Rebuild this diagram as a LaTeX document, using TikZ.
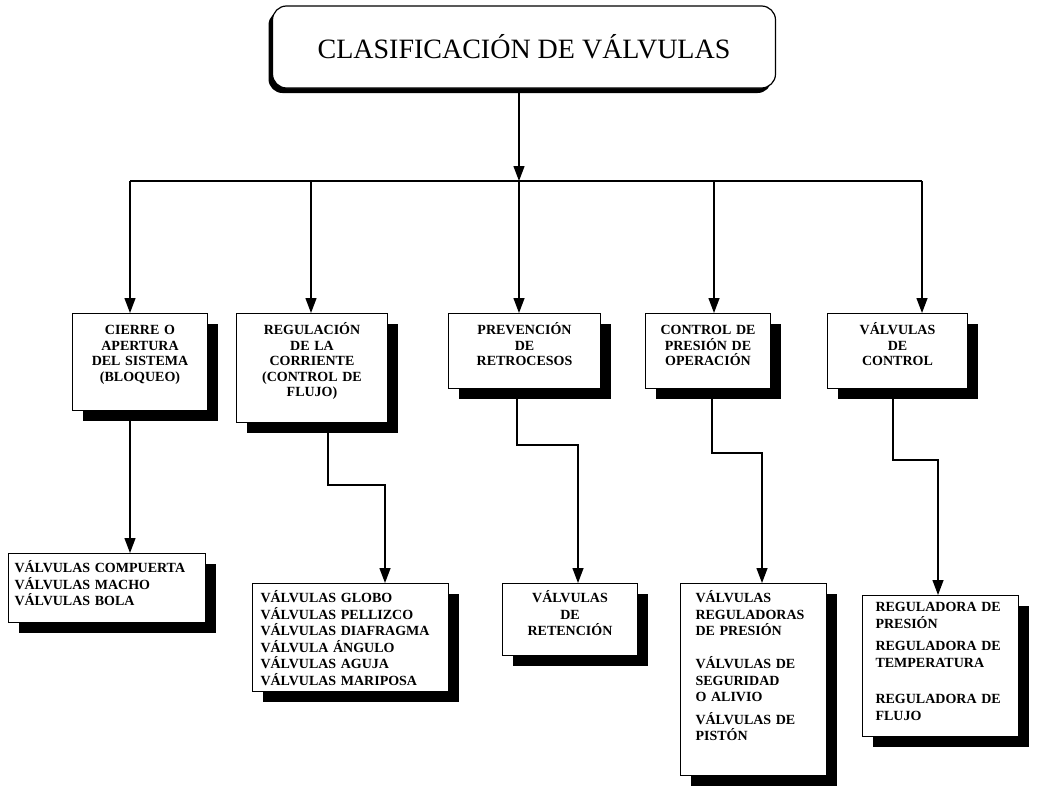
\documentclass[tikz,border=0pt]{standalone}
\usepackage{fontspec}
\setmainfont{Liberation Serif}
\usetikzlibrary{arrows.meta,shadows}

\tikzset{
  caja/.style={draw, fill=white, line width=1pt, anchor=north west,
    font=\bfseries\fontsize{14}{15.5}\selectfont, align=center,
    inner sep=6pt, text height=15pt,
    drop shadow={shadow xshift=10pt, shadow yshift=-10pt, fill=black, opacity=1}},
  subcaja/.style={caja, font=\bfseries\fontsize{14}{16.5}\selectfont, align=left,
    text height=13pt},
  flecha/.style={line width=1.3pt, -{Triangle[length=15pt,width=11pt]}},
}

\begin{document}
\begin{tikzpicture}[x=1pt,y=-1pt]
    \useasboundingbox (0,0) rectangle (1040,790);
    % titulo
    \node[draw, fill=white, line width=1.2pt, rounded corners=14pt,
      minimum width=503pt, minimum height=82pt, text depth=2pt,
      font=\fontsize{28}{32}\selectfont,
      drop shadow={shadow xshift=-4pt, shadow yshift=-5pt, fill=black, opacity=1}]
      (titulo) at (524,47) {CLASIFICACIÓN DE VÁLVULAS};
    \coordinate (h1) at (130,181);
    \coordinate (h2) at (311,181);
    \coordinate (h3) at (519,181);
    \coordinate (h4) at (714,181);
    \coordinate (h5) at (922,181);
    % primer nivel
    \node[caja, text width=123pt, text depth=70pt] (b1) at (72,313) {CIERRE O\\APERTURA\\DEL SISTEMA\\(BLOQUEO)};
    \node[caja, text width=139pt, text depth=82pt] (b2) at (236,313) {REGULACIÓN\\DE LA\\CORRIENTE\\(CONTROL DE\\FLUJO)};
    \node[caja, text width=140pt, text depth=48pt] (b3) at (448,313) {PREVENCIÓN\\DE\\RETROCESOS};
    \node[caja, text width=113pt, text depth=48pt] (b4) at (645,313) {CONTROL DE\\PRESIÓN DE\\OPERACIÓN};
    \node[caja, text width=128pt, text depth=48pt] (b5) at (827,313) {VÁLVULAS\\DE\\CONTROL};
    % segundo nivel
    \node[subcaja, text width=185pt, text depth=44pt] (c1) at (8,553) {VÁLVULAS COMPUERTA\\VÁLVULAS MACHO\\VÁLVULAS BOLA};
    \node[subcaja, text width=180pt, inner xsep=8pt, text depth=83pt] (c2) at (252,583) {VÁLVULAS GLOBO\\VÁLVULAS PELLIZCO\\VÁLVULAS DIAFRAGMA\\VÁLVULA ÁNGULO\\VÁLVULAS AGUJA\\VÁLVULAS MARIPOSA};
    \node[subcaja, align=center, text width=123pt, text depth=47pt] (c3) at (502,583) {VÁLVULAS\\DE\\RETENCIÓN};
    \node[subcaja, text width=116pt, inner xsep=15pt, text depth=167pt] (c4) at (680,583) {VÁLVULAS\\REGULADORAS\\DE PRESIÓN\\[16.5pt]VÁLVULAS DE\\SEGURIDAD\\O ALIVIO\\[6pt]VÁLVULAS DE\\PISTÓN};
    \node[subcaja, text width=130pt, inner xsep=13pt, text height=10pt, text depth=119pt] (c5) at (862,595) {REGULADORA DE\\PRESIÓN\\[6pt]REGULADORA DE\\TEMPERATURA\\[20pt]REGULADORA DE\\FLUJO};
    % conectores
    \coordinate (k2a) at (328,485);
    \coordinate (k2b) at (385,485);
    \coordinate (k3a) at (517,445);
    \coordinate (k3b) at (578,445);
    \coordinate (k4a) at (712,453);
    \coordinate (k4b) at (762,453);
    \coordinate (k5a) at (893,460);
    \coordinate (k5b) at (938,460);
    \draw[flecha] (titulo.south -| h3) -- (h3);
    \draw[line width=1.3pt] (h1) -- (h5);
    \draw[flecha] (h1) -- (h1 |- b1.north);
    \draw[flecha] (h2) -- (h2 |- b2.north);
    \draw[flecha] (h3) -- (h3 |- b3.north);
    \draw[flecha] (h4) -- (h4 |- b4.north);
    \draw[flecha] (h5) -- (h5 |- b5.north);
    \draw[flecha] (b1.south -| h1) -- (h1 |- c1.north);
    \draw[flecha] (b2.south -| k2a) -- (k2a) -- (k2b) -- (k2b |- c2.north);
    \draw[flecha] (b3.south -| k3a) -- (k3a) -- (k3b) -- (k3b |- c3.north);
    \draw[flecha] (b4.south -| k4a) -- (k4a) -- (k4b) -- (k4b |- c4.north);
    \draw[flecha] (b5.south -| k5a) -- (k5a) -- (k5b) -- (k5b |- c5.north);
\end{tikzpicture}
\end{document}
